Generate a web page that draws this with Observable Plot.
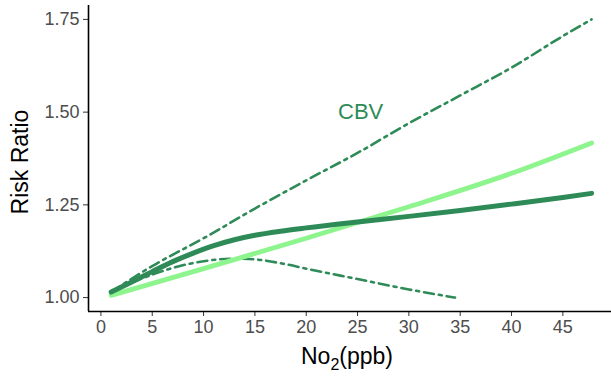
<!DOCTYPE html>
<html><head><meta charset="utf-8">
<script src="https://cdn.jsdelivr.net/npm/d3@7"></script>
<script src="https://cdn.jsdelivr.net/npm/@observablehq/plot@0.6"></script>
<style>body{margin:0;background:#fff}#chart svg{display:block}</style>
</head><body><div id="chart"></div>
<script>
// Estimate (dark) curve
const estX = [1, 3, 5, 7, 9, 11, 13, 15, 17.5, 20, 25, 30, 35, 40, 45, 47.8];
const estY = [1.015, 1.042, 1.07, 1.097, 1.12, 1.14, 1.156, 1.168, 1.179, 1.188, 1.204, 1.219, 1.235, 1.252, 1.27, 1.281];
// Linear (light) fit
const linX = [1, 10, 20, 30, 40, 47.8];
const linY = [1.006, 1.078, 1.16, 1.245, 1.335, 1.417];
// Upper confidence bound
const upX = [1, 5, 10, 15, 20, 25, 30, 35, 40, 45, 47.8];
const upY = [1.015, 1.085, 1.16, 1.24, 1.316, 1.39, 1.47, 1.545, 1.62, 1.705, 1.75];
// Lower confidence bound
const loX = [1, 3, 5, 7, 10, 13, 15, 18, 20, 25, 30, 34.5];
const loY = [1.012, 1.04, 1.062, 1.08, 1.098, 1.105, 1.103, 1.09, 1.078, 1.05, 1.022, 1.0];
const xTicks = [0, 5, 10, 15, 20, 25, 30, 35, 40, 45];
const yTicks = [1.00, 1.25, 1.50, 1.75];
const label = {text: "CBV", x: 25.3, y: 1.50};
const xDomain = [-1.21, 49.74];
const yDomain = [0.9625, 1.7875];

const dark = "#2e8b57", light = "#8ef58e";
const zip = (xs, ys) => xs.map((x, i) => ({x, y: ys[i]}));

const chart = Plot.plot({
  width: 611, height: 377,
  marginLeft: 88, marginRight: 0, marginTop: 5, marginBottom: 66,
  style: {fontFamily: "'Liberation Sans', Arial, sans-serif", background: "#fff"},
  x: {domain: xDomain, label: null},
  y: {domain: yDomain, label: null},
  marks: [
    Plot.axisX({ticks: xTicks, tickFormat: d => d, label: null, tickSize: 5, tickPadding: 4, fontSize: 18, fill: "#4d4d4d", stroke: "#333"}),
    Plot.axisY({ticks: yTicks, tickFormat: d => d.toFixed(2), label: null, tickSize: 5, tickPadding: 4, fontSize: 18, fill: "#4d4d4d", stroke: "#333"}),
    Plot.ruleX([xDomain[0]], {stroke: "#000", strokeWidth: 1.6}),
    Plot.ruleY([yDomain[0]], {stroke: "#000", strokeWidth: 1.6}),
    Plot.line(zip(upX, upY), {x: "x", y: "y", stroke: dark, strokeWidth: 2.6, strokeDasharray: "10,5,3,5", curve: "monotone-x"}),
    Plot.line(zip(loX, loY), {x: "x", y: "y", stroke: dark, strokeWidth: 2.6, strokeDasharray: "10,5,3,5", curve: "monotone-x"}),
    Plot.line(zip(linX, linY), {x: "x", y: "y", stroke: light, strokeWidth: 4.8, curve: "monotone-x"}),
    Plot.line(zip(estX, estY), {x: "x", y: "y", stroke: dark, strokeWidth: 5, curve: "monotone-x"}),
    Plot.text([label], {x: "x", y: "y", text: "text", fill: dark, fontSize: 22})
  ]
});

// axis titles
const svg = d3.select(chart);
svg.append("text")
  .attr("transform", "translate(28,162) rotate(-90)")
  .attr("text-anchor", "middle")
  .attr("font-size", 23)
  .attr("fill", "#000")
  .text("Risk Ratio");
const xt = svg.append("text")
  .attr("x", 347).attr("y", 364)
  .attr("text-anchor", "middle")
  .attr("font-size", 23)
  .attr("fill", "#000");
xt.append("tspan").text("No");
xt.append("tspan").attr("font-size", 16).attr("dy", 6).text("2");
xt.append("tspan").attr("dy", -6).text("(ppb)");
document.getElementById("chart").appendChild(chart);
</script>
</body></html>
